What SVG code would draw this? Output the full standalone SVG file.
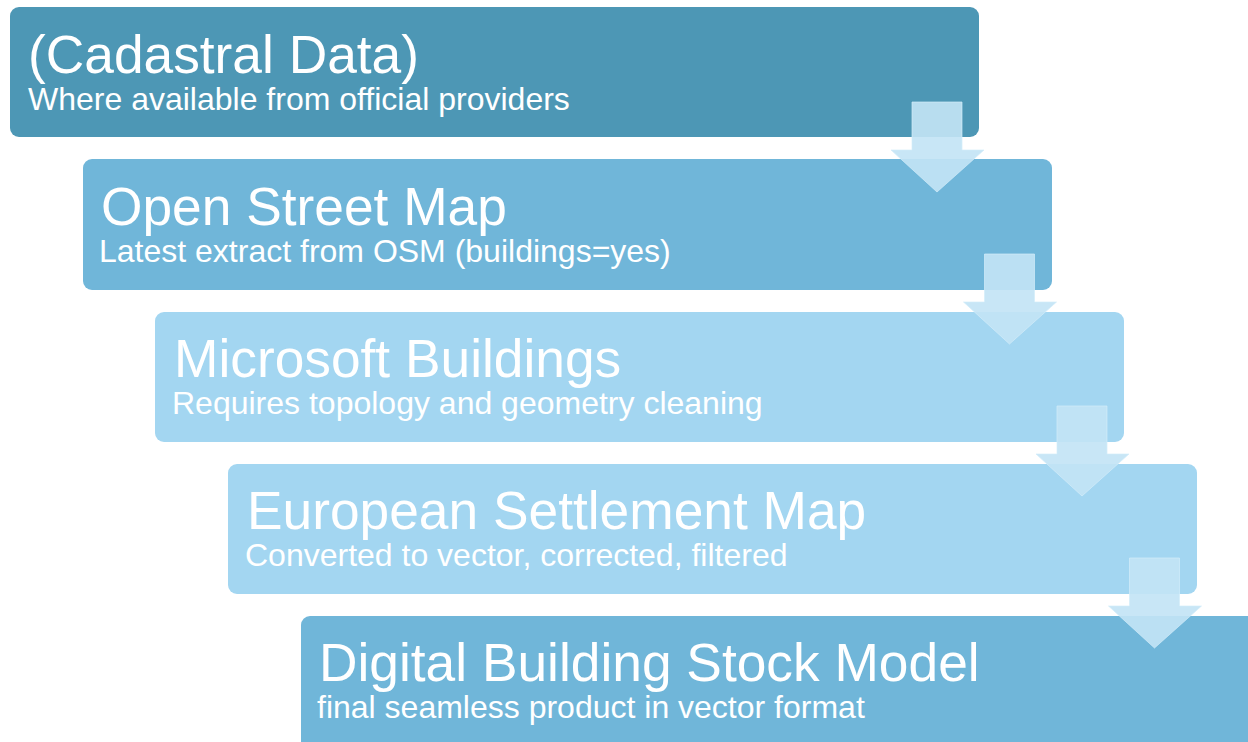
<svg xmlns="http://www.w3.org/2000/svg" width="1248" height="742" viewBox="0 0 1248 742">
  <defs>
    <style>
      .box { stroke: none; }
      .title { font-family: "Liberation Sans", Arial, sans-serif; font-size: 53.3px; fill: #ffffff; }
      .sub { font-family: "Liberation Sans", Arial, sans-serif; font-size: 32px; fill: #ffffff; }
      .arrow { fill: #c2e4f5; fill-opacity: 0.91; stroke: #d3ecf9; stroke-opacity: 0.7; stroke-width: 1; }
    </style>
    <!-- down arrow between stacked steps -->
    <path id="downArrow" class="arrow" d="M912,102 H962 V150 H984 L937,192 L891,150 H912 Z"/>
  </defs>
  <rect width="1248" height="742" fill="#ffffff"/>

  <g id="node-cadastral">
    <rect class="box" x="10" y="7" width="969" height="130" rx="9" fill="#4d97b5"/>
    <text class="title" x="28" y="73">(Cadastral Data)</text>
    <text class="sub" x="28" y="110">Where available from official providers</text>
  </g>

  <g id="node-osm">
    <rect class="box" x="83" y="159" width="969" height="131" rx="9" fill="#70b6d9"/>
    <text class="title" x="101" y="225">Open Street Map</text>
    <text class="sub" x="99" y="262">Latest extract from OSM (buildings=yes)</text>
  </g>

  <g id="node-microsoft">
    <rect class="box" x="155" y="312" width="969" height="130" rx="9" fill="#a3d6f1"/>
    <text class="title" x="174" y="377">Microsoft Buildings</text>
    <text class="sub" x="172" y="414">Requires topology and geometry cleaning</text>
  </g>

  <g id="node-esm">
    <rect class="box" x="228" y="464" width="969" height="130" rx="9" fill="#a3d6f1"/>
    <text class="title" x="247" y="529">European Settlement Map</text>
    <text class="sub" x="245" y="566">Converted to vector, corrected, filtered</text>
  </g>

  <g id="node-dbsm">
    <rect class="box" x="301" y="616" width="969" height="140" rx="9" fill="#70b6d9"/>
    <text class="title" x="319" y="681">Digital Building Stock Model</text>
    <text class="sub" x="317" y="718">final seamless product in vector format</text>
  </g>

  <g id="connectors">
    <use href="#downArrow"/>
    <use href="#downArrow" transform="translate(72.5,152)"/>
    <use href="#downArrow" transform="translate(145,304)"/>
    <use href="#downArrow" transform="translate(217.5,456)"/>
  </g>
</svg>
